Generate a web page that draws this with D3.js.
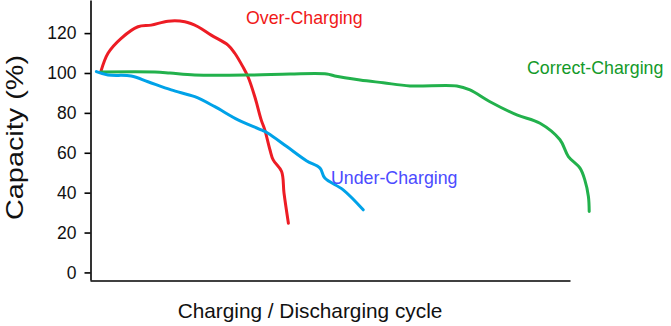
<!DOCTYPE html>
<meta charset="utf-8">
<script src="https://d3js.org/d3.v7.min.js"></script>
<style>
  body { margin: 0; background: #fff; }
  text { font-family: Arial, "Liberation Sans", sans-serif; }
</style>
<div id="my_dataviz"></div>
<script>

// curves: [cycle, capacity %]
var overCharging = [
  [2.7, 100.6], [4.5, 109.9], [7.8, 117.4], [12, 123.2], [15.3, 124.0],
  [19.5, 126.0], [23.7, 125.7], [27, 123.2], [30.3, 119.0], [34.5, 114.0],
  [36.2, 109.9], [38.2, 103.2], [39.5, 98.1], [41.2, 88.1], [42.8, 76.5],
  [43.7, 71.5], [45, 61.4], [45.8, 56.4], [47.9, 50.6], [48.5, 39.8], [49.6, 24.7]
];

var correctCharging = [
  [2.7, 100.5], [16.2, 100.5], [20, 100.0], [26.2, 99.0], [40, 99.0],
  [50, 99.5], [59.2, 99.5], [61.2, 98.5], [67.5, 96.5], [73.3, 95.1],
  [80, 93.5], [91.7, 93.5], [95, 91.5], [100, 85.6], [106.7, 79.0],
  [112.5, 74.8], [117.5, 66.5], [119.6, 58.1], [122.5, 52.3], [123.7, 46.4],
  [124.6, 38.1], [124.8, 30.5]
];

var underCharging = [
  [1.6, 100.7], [4.5, 99.0], [10.3, 98.5], [14.5, 95.6], [20.3, 91.5],
  [26.2, 88.1], [31.2, 83.1], [37, 76.5], [42.8, 71.5], [44.5, 69.8],
  [49.2, 63.1], [54.2, 55.9], [57.5, 52.3], [58.7, 47.3], [63.3, 41.4], [68.3, 31.4]
];

var yTicks = [0, 20, 40, 60, 80, 100, 120];

var series = [
  { name: "Over-Charging", values: overCharging, color: "#ed1c24", text: "#f01818", lx: 246, ly: 24 },
  { name: "Correct-Charging", values: correctCharging, color: "#22b14c", text: "#139a2a", lx: 527, ly: 74 },
  { name: "Under-Charging", values: underCharging, color: "#00a2e8", text: "#4b4bff", lx: 331, ly: 184 }
];

var width = 671, height = 326;

var svg = d3.select("#my_dataviz")
  .append("svg")
    .attr("width", width)
    .attr("height", height);

var x = d3.scaleLinear().domain([0, 120]).range([90, 570]);
var y = d3.scaleLinear().domain([-3.8, 136.6]).range([280, 0]);

// Y axis
var yAxis = svg.append("g")
  .attr("transform", "translate(90.5,0)")
  .call(d3.axisLeft(y).tickValues(yTicks).tickSize(6).tickSizeOuter(0).tickPadding(8));
yAxis.select(".domain").attr("stroke", "#000").attr("stroke-width", 1.6);
yAxis.selectAll(".tick line").attr("stroke", "#000").attr("stroke-width", 1.6);
yAxis.selectAll(".tick text")
  .attr("font-size", "17.5px")
  .attr("font-family", "Arial, 'Liberation Sans', sans-serif")
  .attr("fill", "#111");

// X axis (no ticks)
var xAxis = svg.append("g")
  .attr("transform", "translate(0,280.5)")
  .call(d3.axisBottom(x).tickValues([]).tickSizeOuter(0));
xAxis.select(".domain").attr("stroke", "#000").attr("stroke-width", 1.4);

// lines
var line = d3.line()
  .curve(d3.curveCatmullRom.alpha(0.5))
  .x(function(d) { return x(d[0]); })
  .y(function(d) { return y(d[1]); });

svg.selectAll(".curve")
  .data(series)
  .enter()
  .append("path")
    .attr("class", "curve")
    .attr("d", function(d) { return line(d.values); })
    .attr("fill", "none")
    .attr("stroke", function(d) { return d.color; })
    .attr("stroke-width", 3)
    .attr("stroke-linejoin", "round")
    .attr("stroke-linecap", "round");

// curve labels
svg.selectAll(".lbl")
  .data(series)
  .enter()
  .append("text")
    .attr("class", "lbl")
    .attr("x", function(d) { return d.lx; })
    .attr("y", function(d) { return d.ly; })
    .attr("font-size", "17.8px")
    .attr("fill", function(d) { return d.text; })
    .text(function(d) { return d.name; });

// axis titles
svg.append("text")
  .attr("x", 310)
  .attr("y", 318)
  .attr("text-anchor", "middle")
  .attr("font-size", "20.8px")
  .attr("fill", "#111")
  .text("Charging / Discharging cycle");

svg.append("text")
  .attr("transform", "translate(23,137.5) rotate(-90)")
  .attr("text-anchor", "middle")
  .attr("font-size", "24px")
  .attr("textLength", 165)
  .attr("lengthAdjust", "spacingAndGlyphs")
  .attr("fill", "#111")
  .text("Capacity (%)");

</script>
